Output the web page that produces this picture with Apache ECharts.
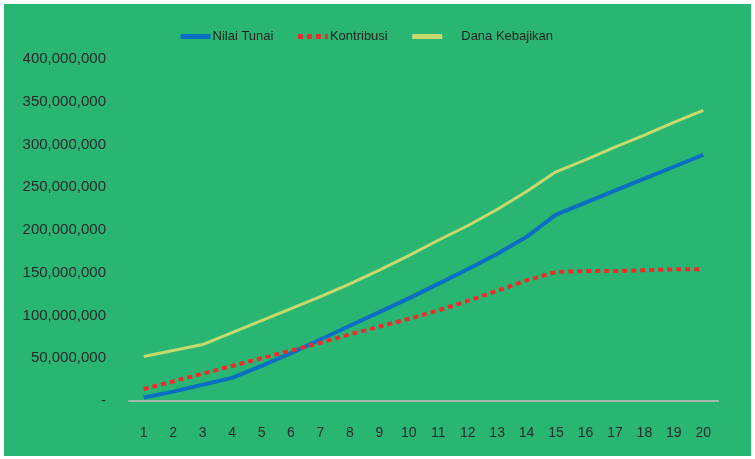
<!DOCTYPE html>
<html>
<head>
<meta charset="utf-8">
<script src="https://cdn.jsdelivr.net/npm/echarts@6/dist/echarts.min.js"></script>
<style>
  html, body { margin: 0; padding: 0; background: #ffffff; }
  #chart { position: absolute; left: 4px; top: 4px; width: 747px; height: 452px; }
</style>
</head>
<body>
<div id="chart"></div>
<script>
var tahun = ['1', '2', '3', '4', '5', '6', '7', '8', '9', '10',
    '11', '12', '13', '14', '15', '16', '17', '18', '19', '20'];
var nilaiTunai = [4, 11, 19, 27, 41, 56, 72, 88, 104, 120,
    137, 154, 172, 192, 218, 232, 246, 260, 274, 288];
var kontribusi = [14, 23, 32, 41, 50, 59, 68, 78, 87, 96,
    106, 117, 129, 141, 151, 152, 152, 153, 154, 154];
var danaKebajikan = [52, 59, 66, 80, 94, 108, 122, 137, 153, 170,
    188, 205, 224, 245, 268, 282, 297, 311, 326, 340];

function juta(arr) {
    return arr.map(function (v) { return v * 1000000; });
}

var myChart = echarts.init(document.getElementById('chart'));
var option = {
    backgroundColor: '#29b673',
    animation: false,
    legend: {
        top: 21,
        left: 169,
        itemWidth: 30,
        itemHeight: 10,
        itemGap: 22,
        itemStyle: { opacity: 0 },
        lineStyle: { width: 5 },
        textStyle: {
            fontFamily: 'Liberation Sans Narrow, Liberation Sans, sans-serif',
            fontSize: 13,
            color: '#222',
            padding: [0, 0, 0, -3]
        },
        data: [
            { name: 'Nilai Tunai' },
            { name: 'Kontribusi' },
            { name: 'Dana Kebajikan', textStyle: { padding: [0, 0, 0, 14] } }
        ]
    },
    grid: {
        left: 125,
        right: 33,
        top: 55,
        bottom: 55
    },
    xAxis: {
        type: 'category',
        data: tahun,
        boundaryGap: true,
        axisLine: { lineStyle: { color: '#a8b8ad', width: 2 } },
        axisTick: { show: false },
        axisLabel: {
            margin: 25,
            fontFamily: 'Liberation Sans, Arial, sans-serif',
            fontSize: 14,
            color: '#2a2a2a'
        }
    },
    yAxis: {
        type: 'value',
        min: 0,
        max: 400000000,
        interval: 50000000,
        axisLine: { show: false },
        axisTick: { show: false },
        splitLine: { show: false },
        axisLabel: {
            margin: 23,
            fontFamily: 'Liberation Sans, Arial, sans-serif',
            fontSize: 15,
            color: '#2a2a2a',
            formatter: function (v) {
                return v === 0 ? '-' : v.toLocaleString('en-US');
            }
        }
    },
    series: [{
        name: 'Nilai Tunai',
        type: 'line',
        symbol: 'none',
        data: juta(nilaiTunai),
        color: '#0a6fc2',
        lineStyle: { width: 4, color: '#0a6fc2' }
    }, {
        name: 'Kontribusi',
        type: 'line',
        symbol: 'none',
        data: juta(kontribusi),
        color: '#ee2b2b',
        lineStyle: { width: 4, color: '#ee2b2b', type: [5, 4] }
    }, {
        name: 'Dana Kebajikan',
        type: 'line',
        symbol: 'none',
        data: juta(danaKebajikan),
        color: '#c6d96c',
        lineStyle: { width: 3, color: '#c6d96c' }
    }]
};
myChart.setOption(option);
</script>
</body>
</html>
